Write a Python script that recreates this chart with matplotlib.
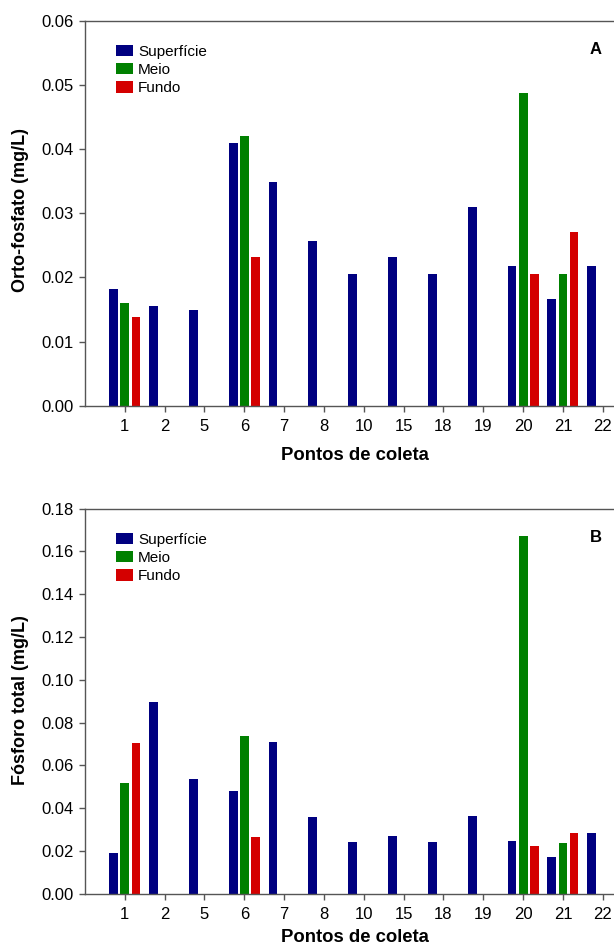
import matplotlib.pyplot as plt
import numpy as np

plt.rcParams['font.family'] = ['Liberation Sans', 'DejaVu Sans']

# Pontos de coleta
pontos = ["1", "2", "5", "6", "7", "8", "10", "15", "18", "19", "20", "21", "22"]

# Painel A - Orto-fosfato (mg/L); NaN = sem amostra
orto_superficie = [0.0182, 0.0156, 0.0149, 0.0410, 0.0349, 0.0256, 0.0206, 0.0232, 0.0206, 0.0310, 0.0217, 0.0167, 0.0217]
orto_meio = [0.0160, np.nan, np.nan, 0.0421, np.nan, np.nan, np.nan, np.nan, np.nan, np.nan, 0.0488, 0.0206, np.nan]
orto_fundo = [0.0138, np.nan, np.nan, 0.0232, np.nan, np.nan, np.nan, np.nan, np.nan, np.nan, 0.0206, 0.0271, np.nan]

# Painel B - Fosforo total (mg/L)
pt_superficie = [0.0190, 0.0896, 0.0536, 0.0480, 0.0709, 0.0358, 0.0242, 0.0270, 0.0242, 0.0363, 0.0246, 0.0171, 0.0284]
pt_meio = [0.0517, np.nan, np.nan, 0.0737, np.nan, np.nan, np.nan, np.nan, np.nan, np.nan, 0.1672, 0.0237, np.nan]
pt_fundo = [0.0704, np.nan, np.nan, 0.0265, np.nan, np.nan, np.nan, np.nan, np.nan, np.nan, 0.0223, 0.0284, np.nan]

cores = ["#000080", "#008000", "#d40000"]
nomes = ["Superfície", "Meio", "Fundo"]

W, H = 614, 952
fig = plt.figure(figsize=(W / 100, H / 100), dpi=100)

def px(x, y):
    # pixel coords (origin top-left) -> figure fraction
    return x / W, 1 - y / H

x = np.arange(1, len(pontos) + 1)
step = 39.83  # px per category
ax_left = 85


def painel(y_top, y_bot, series, ymax, yticks, ylabel, letra, ylabel_y, xlabel_y):
    l, b = px(ax_left, y_bot)
    _, t = px(0, y_top)
    ax = fig.add_axes([l, b, 14 * step / W, t - b])
    off = 0.28
    w = 0.22
    for i, vals in enumerate(series):
        ax.bar(x + (i - 1) * off, vals, width=w, color=cores[i], label=nomes[i])
    ax.set_xlim(0, 14)
    ax.set_ylim(0, ymax)
    ax.set_xticks(x)
    ax.set_xticklabels(pontos)
    ax.set_yticks(yticks)
    ax.set_yticklabels([f"{v:.2f}" for v in yticks])
    for s in ax.spines.values():
        s.set_color("#555555")
        s.set_linewidth(1.0)
    ax.spines["right"].set_visible(False)
    ax.tick_params(axis="both", direction="out", length=4, width=1, color="#555555", labelsize=12)
    ax.tick_params(axis="x", pad=5.5)
    ax.tick_params(axis="y", pad=4)
    lx, ly = px(116, y_top + 24)
    ax.legend(loc="upper left", bbox_to_anchor=(lx, ly), bbox_transform=fig.transFigure,
              frameon=False, fontsize=11, handlelength=1.1, handleheight=0.75,
              handletextpad=0.35, labelspacing=0.28, borderpad=0, borderaxespad=0)
    fx, fy = px(596, y_top + 29)
    fig.text(fx, fy, letra, fontsize=12, fontweight="bold", ha="center", va="center")
    fx, fy = px(21, ylabel_y)
    fig.text(fx, fy, ylabel, fontsize=13, fontweight="bold", rotation=90, ha="center", va="center")
    fx, fy = px(355, xlabel_y)
    fig.text(fx, fy, "Pontos de coleta", fontsize=13.3, fontweight="bold", ha="center", va="center")
    return ax


painel(20.7, 405.7, [orto_superficie, orto_meio, orto_fundo], 0.06,
       np.arange(0, 0.061, 0.01), "Orto-fosfato (mg/L)", "A", 210, 455)
painel(508.7, 893.7, [pt_superficie, pt_meio, pt_fundo], 0.18,
       np.arange(0, 0.181, 0.02), "Fósforo total (mg/L)", "B", 700, 938)

fig.savefig("out.png", dpi=100)
